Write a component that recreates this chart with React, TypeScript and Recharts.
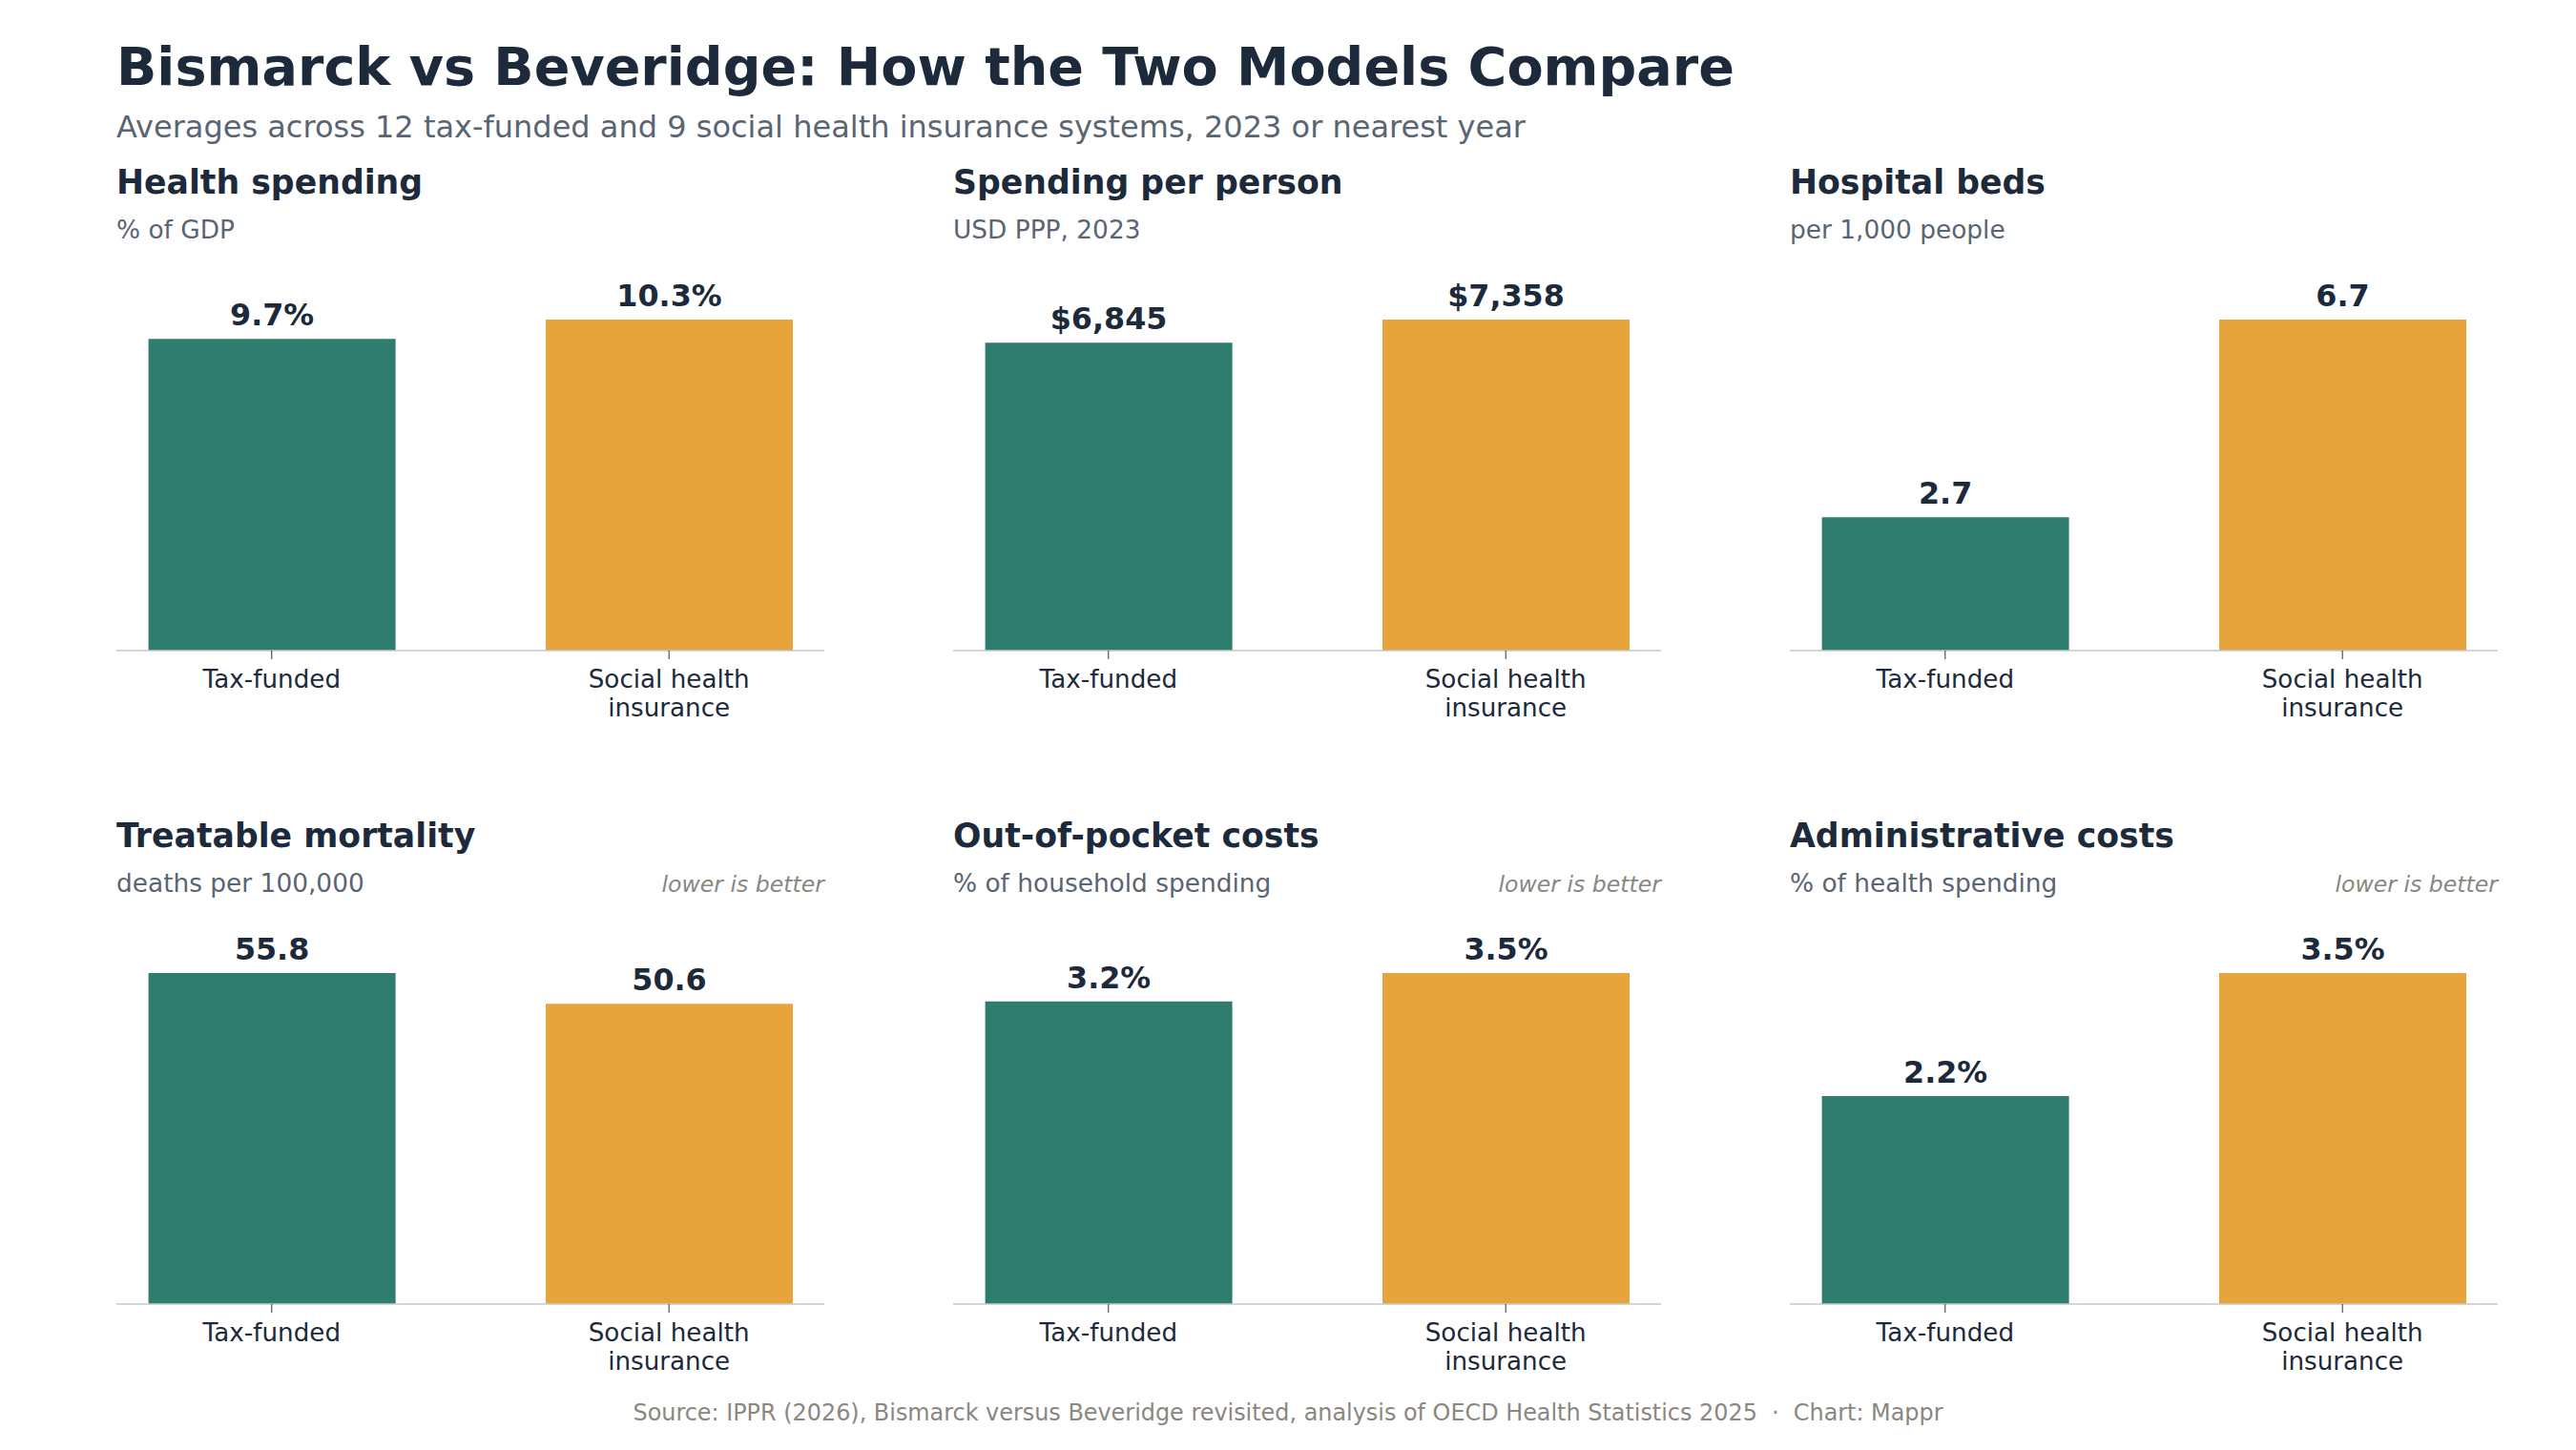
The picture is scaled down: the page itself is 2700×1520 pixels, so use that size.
import React from "react";
import { BarChart, Bar, XAxis, YAxis, Cell, LabelList } from "recharts";

// ---------- Data ----------
const categories = ["Tax-funded", "Social health insurance"];
const categoryTickLines = [["Tax-funded"], ["Social health", "insurance"]];
const panelTitles = [
  "Health spending",
  "Spending per person",
  "Hospital beds",
  "Treatable mortality",
  "Out-of-pocket costs",
  "Administrative costs",
];
const panelUnits = [
  "% of GDP",
  "USD PPP, 2023",
  "per 1,000 people",
  "deaths per 100,000",
  "% of household spending",
  "% of health spending",
];
const taxFundedValues = [9.7, 6845, 2.7, 55.8, 3.2, 2.2];
const socialInsuranceValues = [10.3, 7358, 6.7, 50.6, 3.5, 3.5];
const valuePrefixes = ["", "$", "", "", "", ""];
const valueSuffixes = ["%", "", "", "", "%", "%"];
const valueDecimals = [1, 0, 1, 1, 1, 1];
const lowerIsBetter = [false, false, false, true, true, true];
const categoryColors = ["#2e7d6e", "#e8a43c"];

const chartTitle = "Bismarck vs Beveridge: How the Two Models Compare";
const chartSubtitle =
  "Averages across 12 tax-funded and 9 social health insurance systems, 2023 or nearest year";
const sourceNote =
  "Source: IPPR (2026), Bismarck versus Beveridge revisited, analysis of OECD Health Statistics 2025  \u00b7  Chart: Mappr";
const lowerNote = "lower is better";

// ---------- Layout ----------
const W = 2700;
const H = 1520;
const LEFT = 122;
const PANEL_W = 742;
const COL_STEP = 877;
const AXIS_Y = [682, 1367];
const PLOT_H = 400;
const MAX_BAR_H = 347;
const AXIS_AREA = 90;
const FONT = "'DejaVu Sans', 'Liberation Sans', sans-serif";
const DARK = "#1c2a3b";
const SLATE = "#5a6573";
const WARM = "#8a8780";

const fmt = (v: number, p: number) =>
  valuePrefixes[p] +
  v.toLocaleString("en-US", {
    minimumFractionDigits: valueDecimals[p],
    maximumFractionDigits: valueDecimals[p],
  }) +
  valueSuffixes[p];

const CatTick = (props: any) => {
  const { x, y, payload } = props;
  const lines = categoryTickLines[payload.value] || [String(payload.value)];
  return (
    <g>
      <text
        x={x}
        y={y}
        textAnchor="middle"
        fontFamily={FONT}
        fontSize={26.2}
        fill={DARK}
      >
        {lines.map((l: string, i: number) => (
          <tspan key={i} x={x} dy={i === 0 ? 30 : 29.5}>
            {l}
          </tspan>
        ))}
      </text>
    </g>
  );
};

function Panel({ p }: { p: number }) {
  const rows = categories.map((c, i) => ({
    x: i,
    name: c,
    v: i === 0 ? taxFundedValues[p] : socialInsuranceValues[p],
  }));
  const maxV = Math.max(taxFundedValues[p], socialInsuranceValues[p]);
  const yTop = (maxV * PLOT_H) / MAX_BAR_H;
  const renderLabel = (lp: any) => {
    const x = Number(lp.x);
    const y = Number(lp.y);
    const w = Number(lp.width);
    return (
      <text
        x={x + w / 2}
        y={y - 14}
        textAnchor="middle"
        fontFamily={FONT}
        fontWeight="bold"
        fontSize={31.8}
        fill={DARK}
      >
        {fmt(Number(lp.value), p)}
      </text>
    );
  };
  return (
    <BarChart
      width={PANEL_W}
      height={PLOT_H + AXIS_AREA}
      data={rows}
      margin={{ top: 0, right: 0, bottom: 0, left: 0 }}
    >
      <XAxis
        type="number"
        dataKey="x"
        domain={[-0.391, 1.391]}
        ticks={[0, 1]}
        allowDataOverflow
        interval={0}
        height={AXIS_AREA}
        axisLine={{ stroke: "#c4c8cc", strokeWidth: 1.5 }}
        tickLine={{ stroke: "#2a3442", strokeWidth: 1 }}
        tickSize={9}
        tickMargin={0}
        tick={<CatTick />}
      />
      <YAxis hide type="number" domain={[0, yTop]} allowDataOverflow />
      <Bar dataKey="v" barSize={259} isAnimationActive={false}>
        {rows.map((r, i) => (
          <Cell key={r.name} fill={categoryColors[i]} />
        ))}
        <LabelList dataKey="v" content={renderLabel} />
      </Bar>
    </BarChart>
  );
}

export default function App() {
  return (
    <div
      style={{
        position: "absolute",
        left: 0,
        top: 0,
        width: W,
        height: H,
        background: "#ffffff",
        overflow: "hidden",
      }}
    >
      <svg
        width={W}
        height={H}
        style={{ position: "absolute", left: 0, top: 0 }}
        fontFamily={FONT}
      >
        <text x={LEFT} y={89} fontSize={55.6} fontWeight="bold" fill={DARK}>
          {chartTitle}
        </text>
        <text x={LEFT} y={144} fontSize={32} fill={SLATE}>
          {chartSubtitle}
        </text>
        {panelTitles.map((t, p) => {
          const col = p % 3;
          const row = Math.floor(p / 3);
          const x0 = LEFT + col * COL_STEP;
          const dy = AXIS_Y[row] - AXIS_Y[0];
          return (
            <g key={t}>
              <text
                x={x0}
                y={203 + dy}
                fontSize={34.7}
                fontWeight="bold"
                fill={DARK}
              >
                {t}
              </text>
              <text x={x0} y={250 + dy} fontSize={26.4} fill={SLATE}>
                {panelUnits[p]}
              </text>
              {lowerIsBetter[p] ? (
                <text
                  x={x0 + PANEL_W}
                  y={250 + dy}
                  fontSize={23.6}
                  fontStyle="italic"
                  textAnchor="end"
                  fill={WARM}
                >
                  {lowerNote}
                </text>
              ) : null}
            </g>
          );
        })}
        <text
          x={W / 2}
          y={1489}
          fontSize={23.9}
          textAnchor="middle"
          fill={WARM}
          style={{ whiteSpace: "pre" }}
        >
          {sourceNote}
        </text>
      </svg>
      {panelTitles.map((t, p) => {
        const col = p % 3;
        const row = Math.floor(p / 3);
        return (
          <div
            key={t}
            style={{
              position: "absolute",
              left: LEFT + col * COL_STEP,
              top: AXIS_Y[row] - PLOT_H,
            }}
          >
            <Panel p={p} />
          </div>
        );
      })}
    </div>
  );
}
